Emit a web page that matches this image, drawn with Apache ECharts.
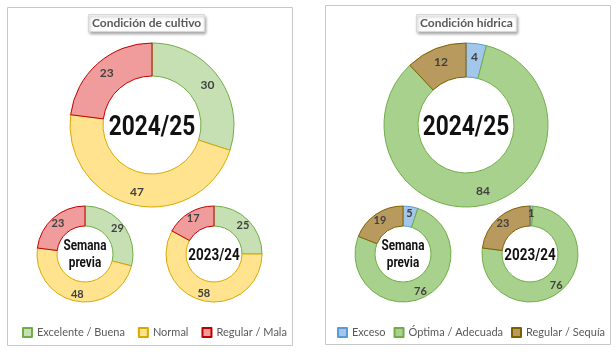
<!DOCTYPE html>
<html lang="es">
<head>
    <meta charset="UTF-8">
    <title>Condición de cultivo / hídrica</title>
    <script src="https://cdn.jsdelivr.net/npm/echarts@6.0.0/dist/echarts.min.js"></script>
    <style>
        html, body { margin: 0; padding: 0; background: #fff; }
        #main { width: 616px; height: 353px; }
    </style>
</head>
<body>
    <div id="main"></div>
    <script>
        // categorías y valores (%)
        var cultivoCats = ['Excelente / Buena', 'Normal', 'Regular / Mala'];
        var cultivoActual = [30, 47, 23];
        var cultivoSemana = [29, 48, 23];
        var cultivoAnterior = [25, 58, 17];

        var hidricaCats = ['Exceso', 'Óptima / Adecuada', 'Regular / Sequía'];
        var hidricaActual = [4, 84, 12];
        var hidricaSemana = [5, 76, 19];
        var hidricaAnterior = [1, 76, 23];

        // colores: relleno y borde
        var cultivoFill = ['#c6e0b4', '#ffe38f', '#f09c9c'];
        var cultivoLine = ['#70ad47', '#d9a900', '#c00000'];
        var hidricaFill = ['#a2c7ea', '#a9d18e', '#b99a5e'];
        var hidricaLine = ['#5b9bd5', '#70ad47', '#7f6000'];

        var FONT = 'Lato';

        function makeData(cats, vals, fill, line) {
            return cats.map(function (c, i) {
                return {
                    name: c,
                    value: vals[i],
                    itemStyle: { color: fill[i], borderColor: line[i], borderWidth: 1 }
                };
            });
        }

        function donut(center, radius, cats, vals, fill, line, fontSize) {
            return {
                type: 'pie',
                center: center,
                radius: radius,
                startAngle: 90,
                clockwise: true,
                avoidLabelOverlap: false,
                silent: true,
                label: {
                    show: true,
                    position: 'inside',
                    formatter: '{c}',
                    color: '#404040',
                    fontFamily: FONT,
                    fontSize: fontSize,
                    fontWeight: 'bold'
                },
                labelLine: { show: false },
                emphasis: { disabled: true },
                data: makeData(cats, vals, fill, line)
            };
        }

        // texto central, algo estrechado para parecerse a la fuente condensada
        function centerText(x, y, text, size) {
            return {
                type: 'text',
                x: x,
                y: y,
                scaleX: 0.84,
                style: {
                    text: text,
                    align: 'center',
                    verticalAlign: 'middle',
                    fontFamily: 'Roboto',
                    fontWeight: 'bold',
                    fontSize: size,
                    lineHeight: size * 1.2,
                    fill: '#111'
                }
            };
        }

        var titleBox = {
            backgroundColor: '#fff',
            borderColor: '#d9d9d9',
            borderWidth: 1,
            padding: [3, 4],
            shadowBlur: 3,
            shadowColor: 'rgba(0,0,0,0.35)',
            shadowOffsetX: 1,
            shadowOffsetY: 2
        };
        var titleText = { fontFamily: FONT, fontSize: 12, fontWeight: 'bold', color: '#595959' };
        var legendText = { fontFamily: FONT, fontSize: 11, color: '#595959' };

        var myChart = echarts.init(document.getElementById('main'));

        myChart.setOption({
            animation: false,
            title: [
                Object.assign({ text: 'Condición de cultivo', left: 88, top: 14, textStyle: titleText }, titleBox),
                Object.assign({ text: 'Condición hídrica', left: 416, top: 14, textStyle: titleText }, titleBox)
            ],
            legend: [
                {
                    data: cultivoCats,
                    left: 17, top: 322, width: 290,
                    icon: 'rect', itemWidth: 9, itemHeight: 9, itemGap: 13,
                    selectedMode: false,
                    textStyle: legendText
                },
                {
                    data: hidricaCats,
                    left: 332, top: 322, width: 290,
                    icon: 'rect', itemWidth: 9, itemHeight: 9, itemGap: 8,
                    selectedMode: false,
                    textStyle: legendText
                }
            ],
            graphic: [
                { type: 'rect', shape: { x: 7.5, y: 7.5, width: 285, height: 338 }, style: { fill: 'none', stroke: '#c8c8c8', lineWidth: 1 }, z: -1 },
                { type: 'rect', shape: { x: 325.5, y: 5.5, width: 285, height: 339 }, style: { fill: 'none', stroke: '#c8c8c8', lineWidth: 1 }, z: -1 },
                centerText(152, 128, '2024/25', 27),
                centerText(85, 255, 'Semana\nprevia', 14),
                centerText(214, 256, '2023/24', 16),
                centerText(466, 128, '2024/25', 27),
                centerText(403, 255, 'Semana\nprevia', 14),
                centerText(530, 256, '2023/24', 16)
            ],
            series: [
                donut([152, 125], [49, 82], cultivoCats, cultivoActual, cultivoFill, cultivoLine, 12),
                donut([85, 254], [28, 48], cultivoCats, cultivoSemana, cultivoFill, cultivoLine, 11),
                donut([214, 254], [28, 48], cultivoCats, cultivoAnterior, cultivoFill, cultivoLine, 11),
                donut([466, 125], [48, 82], hidricaCats, hidricaActual, hidricaFill, hidricaLine, 12),
                donut([403, 254], [28, 48], hidricaCats, hidricaSemana, hidricaFill, hidricaLine, 11),
                donut([530, 254], [28, 48], hidricaCats, hidricaAnterior, hidricaFill, hidricaLine, 11)
            ]
        });
    </script>
</body>
</html>
